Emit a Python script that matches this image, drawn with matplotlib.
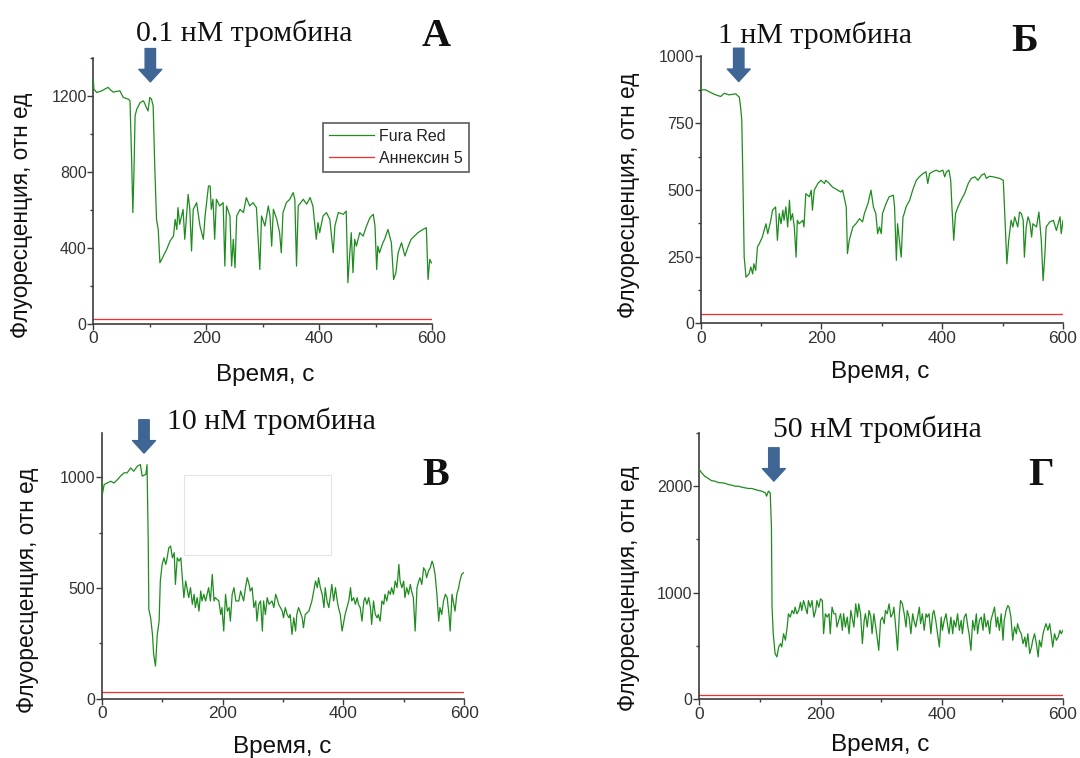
import matplotlib
matplotlib.use("Agg")
import matplotlib.pyplot as plt
from matplotlib.patches import Rectangle
from matplotlib.ticker import MultipleLocator

plt.rcParams["font.family"] = ["Liberation Sans", "DejaVu Sans"]

# Fura Red traces, (time s, fluorescence)
fura_a = [(0, 1289), (1, 1236), (6, 1218), (15, 1227), (26, 1245), (35, 1220), (47, 1227), (53, 1192), (62, 1183), (65, 1174),
          (68, 849), (70, 585), (72, 796), (74, 1095), (77, 1130), (83, 1165), (89, 1174), (94, 1139), (97, 1121), (100, 1192),
          (103, 1183), (106, 1148), (109, 813), (112, 549), (115, 496), (118, 320), (124, 356), (130, 391), (136, 435), (142, 461),
          (145, 549), (148, 496), (150, 611), (153, 523), (159, 602), (162, 444), (168, 681), (171, 602), (174, 382), (177, 602),
          (183, 637), (189, 514), (195, 444), (198, 567), (204, 725), (207, 725), (209, 602), (212, 655), (215, 444), (218, 655),
          (224, 620), (230, 637), (233, 303), (236, 620), (242, 567), (245, 303), (248, 444), (251, 294), (254, 567), (260, 602),
          (266, 585), (271, 664), (277, 620), (283, 637), (289, 611), (295, 285), (298, 567), (304, 514), (310, 620), (313, 567),
          (316, 408), (319, 602), (325, 549), (330, 479), (333, 373), (336, 585), (342, 637), (348, 655), (354, 690), (357, 655),
          (360, 303), (363, 620), (372, 655), (378, 629), (384, 664), (389, 620), (395, 444), (398, 532), (401, 479), (407, 567),
          (413, 585), (419, 549), (425, 373), (428, 514), (434, 585), (443, 576), (448, 593), (451, 215), (454, 356), (457, 479),
          (460, 268), (463, 444), (466, 408), (472, 479), (478, 461), (484, 514), (490, 558), (496, 576), (499, 514), (502, 285),
          (504, 408), (507, 373), (513, 426), (516, 444), (522, 496), (528, 426), (532, 232), (536, 268), (540, 373), (546, 426),
          (552, 356), (558, 408), (563, 444), (569, 461), (575, 479), (584, 496), (590, 505), (593, 232), (596, 338), (599, 320)]

fura_b = [(0, 912), (1, 875), (8, 875), (19, 862), (25, 856), (33, 850), (39, 862), (47, 856), (58, 860), (64, 847),
          (66, 812), (68, 762), (70, 524), (72, 248), (75, 173), (80, 185), (83, 211), (86, 185), (88, 223), (91, 198),
          (94, 286), (97, 298), (102, 323), (108, 373), (111, 336), (116, 386), (119, 424), (124, 436), (127, 311), (130, 411),
          (133, 373), (136, 424), (138, 386), (141, 436), (144, 361), (147, 461), (149, 386), (152, 411), (155, 361), (158, 248),
          (160, 386), (163, 373), (169, 386), (171, 361), (174, 486), (180, 474), (183, 499), (185, 424), (188, 499), (194, 524),
          (199, 536), (205, 524), (207, 536), (213, 524), (218, 511), (227, 499), (232, 492), (235, 499), (241, 436), (243, 261),
          (246, 311), (252, 361), (257, 373), (263, 392), (268, 380), (271, 411), (277, 449), (282, 499), (286, 436), (290, 411),
          (293, 336), (296, 361), (299, 336), (301, 411), (307, 449), (312, 474), (319, 480), (321, 436), (324, 236), (326, 373),
          (329, 311), (332, 248), (335, 399), (337, 411), (340, 436), (346, 461), (351, 499), (357, 536), (362, 549), (368, 561),
          (373, 568), (376, 524), (379, 561), (384, 568), (390, 574), (395, 568), (401, 574), (404, 549), (407, 568), (411, 574),
          (414, 536), (416, 436), (419, 311), (422, 411), (426, 436), (431, 461), (437, 486), (443, 524), (448, 543), (454, 549),
          (459, 536), (465, 555), (470, 561), (473, 543), (478, 551), (484, 549), (495, 543), (501, 536), (503, 436), (507, 223),
          (510, 311), (514, 386), (517, 361), (520, 399), (525, 361), (528, 417), (531, 411), (534, 386), (536, 248), (539, 361),
          (542, 399), (545, 380), (548, 323), (550, 373), (556, 361), (560, 417), (564, 311), (567, 160), (570, 261), (572, 361),
          (578, 380), (584, 386), (589, 348), (592, 373), (595, 399), (597, 336), (600, 386)]

fura_c = [(0, 997), (1, 922), (4, 967), (9, 974), (15, 982), (20, 974), (26, 989), (31, 1005), (37, 1020), (42, 1020),
          (48, 1042), (53, 1027), (59, 1050), (64, 1057), (67, 1005), (73, 1013), (75, 1057), (77, 711), (78, 403), (81, 365),
          (84, 290), (86, 200), (89, 147), (92, 290), (95, 350), (97, 531), (100, 606), (103, 636), (106, 606), (108, 629),
          (111, 681), (114, 689), (117, 636), (120, 659), (122, 516), (125, 636), (128, 621), (131, 636), (133, 561), (136, 456),
          (139, 531), (142, 486), (144, 456), (147, 501), (150, 426), (153, 471), (155, 411), (158, 456), (161, 395), (164, 486),
          (166, 441), (169, 471), (172, 441), (177, 501), (180, 441), (183, 561), (186, 441), (188, 456), (194, 441), (197, 380),
          (199, 411), (202, 305), (205, 471), (208, 395), (211, 411), (213, 350), (216, 471), (219, 501), (222, 441), (227, 441),
          (230, 486), (235, 441), (238, 501), (241, 546), (244, 516), (246, 486), (249, 501), (252, 411), (255, 441), (257, 350),
          (260, 426), (263, 441), (266, 305), (268, 441), (271, 380), (274, 456), (277, 426), (282, 441), (285, 411), (288, 471),
          (290, 456), (293, 426), (299, 395), (301, 365), (304, 411), (307, 380), (310, 365), (312, 380), (315, 290), (318, 365),
          (321, 305), (323, 380), (326, 411), (332, 365), (334, 320), (337, 380), (343, 395), (348, 441), (351, 486), (354, 531),
          (357, 501), (359, 546), (362, 501), (365, 471), (368, 411), (370, 501), (373, 441), (376, 411), (379, 471), (381, 516),
          (384, 441), (387, 501), (390, 441), (392, 411), (395, 380), (398, 305), (401, 350), (403, 380), (406, 411), (409, 441),
          (412, 501), (414, 441), (417, 456), (420, 426), (423, 456), (425, 426), (428, 411), (431, 350), (434, 441), (436, 456),
          (439, 426), (442, 456), (445, 411), (447, 335), (450, 441), (453, 380), (456, 365), (458, 380), (461, 350), (464, 441),
          (467, 426), (469, 471), (472, 441), (475, 486), (478, 471), (480, 501), (483, 471), (486, 531), (489, 501), (492, 606),
          (494, 531), (497, 501), (500, 531), (502, 456), (505, 501), (508, 471), (511, 516), (513, 486), (516, 456), (519, 305),
          (522, 501), (525, 531), (527, 546), (530, 516), (533, 591), (536, 576), (538, 546), (541, 576), (544, 591), (547, 621),
          (549, 606), (552, 561), (555, 471), (558, 350), (560, 411), (563, 380), (566, 441), (569, 471), (572, 456), (575, 380),
          (577, 305), (580, 471), (582, 441), (585, 395), (588, 471), (591, 501), (593, 531), (596, 561), (599, 568)]

fura_d = [(0, 2153), (4, 2123), (9, 2092), (15, 2070), (20, 2051), (26, 2045), (31, 2033), (37, 2030), (42, 2026), (48, 2014),
          (54, 2008), (59, 1998), (65, 1998), (70, 1989), (76, 1983), (81, 1977), (87, 1977), (92, 1967), (98, 1958), (103, 1952),
          (109, 1936), (111, 1905), (114, 1952), (117, 1936), (119, 1610), (120, 865), (122, 616), (125, 430), (128, 399), (131, 492),
          (134, 523), (136, 492), (139, 616), (142, 555), (145, 679), (147, 803), (150, 772), (153, 834), (156, 803), (158, 865),
          (161, 803), (164, 834), (167, 911), (169, 834), (172, 927), (175, 865), (178, 803), (180, 927), (183, 865), (186, 927),
          (189, 772), (192, 834), (194, 927), (197, 865), (200, 943), (203, 927), (205, 616), (208, 803), (211, 772), (214, 803),
          (216, 616), (219, 865), (222, 803), (225, 803), (227, 679), (230, 741), (233, 803), (236, 648), (238, 803), (241, 679),
          (244, 772), (247, 616), (250, 834), (252, 772), (255, 679), (258, 896), (261, 772), (263, 896), (266, 803), (269, 523),
          (272, 741), (274, 803), (277, 679), (280, 834), (283, 772), (285, 616), (288, 803), (291, 679), (294, 555), (296, 461),
          (299, 741), (302, 772), (305, 710), (307, 834), (310, 803), (313, 896), (316, 772), (319, 803), (321, 865), (324, 679),
          (327, 461), (330, 803), (332, 927), (335, 896), (338, 803), (341, 679), (343, 834), (346, 772), (349, 616), (352, 803),
          (354, 741), (357, 679), (360, 772), (363, 865), (365, 710), (368, 803), (371, 648), (374, 803), (376, 772), (379, 803),
          (382, 616), (385, 803), (387, 834), (390, 741), (393, 616), (396, 492), (399, 772), (401, 648), (404, 741), (407, 803),
          (410, 679), (412, 616), (415, 772), (418, 616), (420, 741), (423, 679), (426, 803), (429, 648), (432, 741), (434, 616),
          (437, 772), (440, 803), (443, 679), (445, 616), (448, 461), (451, 741), (454, 648), (457, 803), (459, 616), (462, 741),
          (465, 772), (468, 648), (470, 803), (473, 679), (476, 741), (479, 616), (481, 741), (484, 803), (487, 865), (490, 679),
          (492, 772), (495, 648), (498, 803), (501, 555), (503, 741), (506, 834), (509, 880), (511, 865), (514, 772), (517, 555),
          (520, 679), (523, 616), (525, 710), (528, 648), (531, 616), (534, 523), (537, 585), (539, 492), (542, 616), (545, 430),
          (548, 492), (550, 555), (553, 616), (556, 523), (559, 399), (561, 555), (564, 492), (567, 616), (570, 679), (572, 710),
          (575, 648), (578, 710), (581, 585), (583, 492), (586, 616), (589, 555), (592, 585), (595, 648), (597, 616), (600, 648)]

# Annexin 5 stays flat near the baseline in every panel
annexin_time = [0, 600]
annexin_level = {"A": 25, "B": 34, "C": 29, "D": 45}

titles = {"A": "0.1 нМ тромбина", "B": "1 нМ тромбина", "C": "10 нМ тромбина", "D": "50 нМ тромбина"}
letters = {"A": "А", "B": "Б", "C": "В", "D": "Г"}
# time of thrombin addition and trace level under the arrow tip
arrow_at = {"A": (101, 1274), "B": (63, 906), "C": (70, 1109), "D": (123, 2046)}
y_limits = {"A": (1400, 400, 200), "B": (1000, 250, 125), "C": (1200, 500, 250), "D": (2500, 1000, 500)}

GREEN = "#1e8c1e"
RED = "#ff2a2a"
ARROW = "#3f6595"
AXIS = "#3c3c3c"

W, H = 1080, 758


def px(x, y):
    return x / W, 1 - y / H


def draw_panel(fig, key, trace, rect, title_xy, letter_xy, ylab_xy, xlab_xy):
    ax = fig.add_axes(rect)
    t = [p[0] for p in trace]
    v = [p[1] for p in trace]
    ax.plot(annexin_time, [annexin_level[key]] * 2, color=RED, lw=0.9, label="Аннексин 5", zorder=2)
    ax.plot(t, v, color=GREEN, lw=0.9, label="Fura Red", zorder=3)

    top, major, minor = y_limits[key]
    ax.set_xlim(0, 600)
    ax.set_ylim(0, top)
    ax.xaxis.set_major_locator(MultipleLocator(200))
    ax.xaxis.set_minor_locator(MultipleLocator(100))
    ax.yaxis.set_major_locator(MultipleLocator(major))
    ax.yaxis.set_minor_locator(MultipleLocator(minor))

    for side in ("top", "right"):
        ax.spines[side].set_visible(False)
    for side in ("left", "bottom"):
        ax.spines[side].set_color(AXIS)
        ax.spines[side].set_linewidth(1.2)
    ax.tick_params(which="major", direction="out", length=4, width=1, color=AXIS,
                   labelcolor="#333333")
    ax.tick_params(axis="x", which="major", labelsize=12.5, pad=1.5)
    ax.tick_params(axis="y", which="major", labelsize=11.5, pad=0.8)
    ax.tick_params(which="minor", direction="out", length=2.5, width=1, color=AXIS)

    ta, ya = arrow_at[key]
    ax.annotate("", xy=(ta, ya), xytext=(0, 24), textcoords="offset points",
                annotation_clip=False,
                arrowprops=dict(arrowstyle="simple,head_length=0.9,head_width=1.65,tail_width=0.75",
                                mutation_scale=10, color=ARROW, shrinkA=0, shrinkB=0))

    fig.text(*px(*title_xy), titles[key], family="Liberation Serif", fontsize=21.4,
             ha="center", va="baseline", color="#111111")
    fig.text(*px(*letter_xy), letters[key], family="Liberation Serif", fontsize=29,
             fontweight="bold", ha="center", va="baseline", color="#111111")
    fig.text(*px(*ylab_xy), "Флуоресценция, отн ед", fontsize=16.3, rotation=90,
             ha="center", va="center", color="#111111")
    fig.text(*px(*xlab_xy), "Время, с", fontsize=17.5, ha="center", va="center", color="#111111")
    return ax


fig = plt.figure(figsize=(W / 100, H / 100), dpi=100)

ax_a = draw_panel(fig, "A", fura_a, [0.0864, 0.5732, 0.3136, 0.3503],
                  (244, 41), (436, 46), (22, 215), (265, 375))
draw_panel(fig, "B", fura_b, [0.6488, 0.5735, 0.3355, 0.3520],
           (815, 43), (1025, 51), (628, 195), (880, 372))
ax_c = draw_panel(fig, "C", fura_c, [0.0942, 0.0784, 0.3355, 0.3504],
                  (271, 429), (436, 485), (28, 590), (282, 747))
draw_panel(fig, "D", fura_d, [0.6475, 0.0772, 0.3368, 0.3520],
           (877, 437), (1041, 485), (628, 588), (880, 745))

# legend of panel A sticks out past the right end of the axis
handles, labels = ax_a.get_legend_handles_labels()
leg = ax_a.legend(handles[::-1], labels[::-1], loc="upper left", bbox_to_anchor=(0.679, 0.754),
                  borderaxespad=0, fontsize=11.5, frameon=True, fancybox=False,
                  handlelength=2.8, handletextpad=0.35, borderpad=0.35, labelspacing=0.45)
leg.get_frame().set_edgecolor("#333333")
leg.get_frame().set_linewidth(1.2)
for txt in leg.get_texts():
    txt.set_color("#222222")

# empty box left over in panel В
ax_c.add_patch(Rectangle((0.227, 0.54), 0.405, 0.30, transform=ax_c.transAxes,
                         facecolor="white", edgecolor="#e4e4e4", lw=0.8, zorder=1))

fig.savefig("out.png", dpi=100)
